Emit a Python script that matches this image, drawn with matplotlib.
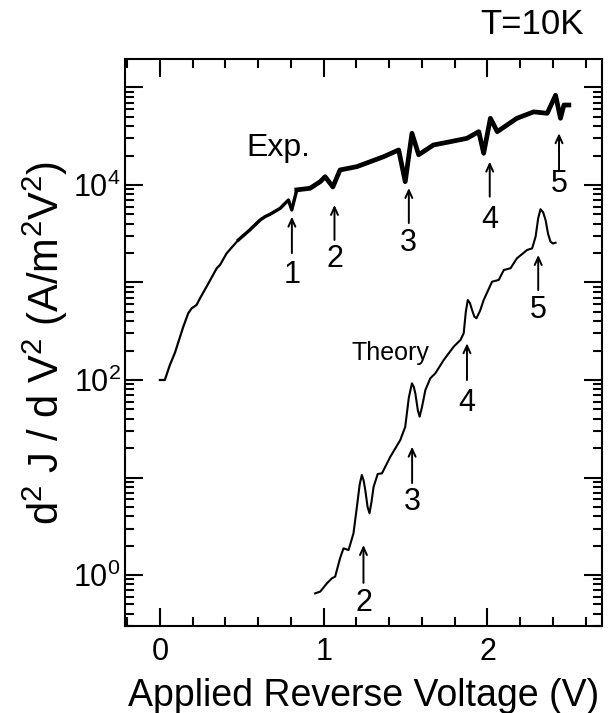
import matplotlib
matplotlib.use('Agg')
import matplotlib.pyplot as plt
from matplotlib.ticker import LogLocator, FixedLocator, MultipleLocator, FuncFormatter
import math

plt.rcParams['font.family'] = ['Liberation Sans', 'DejaVu Sans']
plt.rcParams['mathtext.fontset'] = 'custom'
plt.rcParams['mathtext.rm'] = 'Liberation Sans'
plt.rcParams['mathtext.it'] = 'Liberation Sans:italic'

# 실험 곡선 (Exp.)
exp_v = [0.0, 0.03, 0.061, 0.092, 0.143, 0.173, 0.194, 0.224, 0.245, 0.296, 0.347,
         0.367, 0.408, 0.479, 0.55, 0.612, 0.642, 0.673, 0.734,
         0.785, 0.805, 0.836, 0.917, 0.979, 1.009, 1.056, 1.10, 1.203, 1.366, 1.458,
         1.498, 1.539, 1.58, 1.67, 1.774, 1.876, 1.947, 1.977, 2.018, 2.06, 2.18,
         2.283, 2.365, 2.416, 2.446, 2.467, 2.497]
exp_log = [2.0, 2.0, 2.154, 2.28, 2.547, 2.684, 2.735, 2.77, 2.838, 2.99, 3.146,
           3.18, 3.3, 3.436, 3.54, 3.641, 3.675, 3.70, 3.76,
           3.846, 3.744, 3.95, 3.966, 4.034, 4.085, 3.98, 4.154, 4.188, 4.29, 4.359,
           4.034, 4.53, 4.31, 4.41, 4.444, 4.479, 4.547, 4.325, 4.684, 4.547, 4.684,
           4.75, 4.735, 4.92, 4.684, 4.82, 4.82]
exp_y = [10 ** v for v in exp_log]

# 이론 곡선 (Theory)
th_v = [0.948, 0.979, 1.02, 1.05, 1.07, 1.10, 1.121, 1.152, 1.182, 1.203, 1.22, 1.233,
        1.244, 1.254, 1.268, 1.28, 1.292, 1.305, 1.33, 1.356, 1.407, 1.468, 1.498, 1.52,
        1.539, 1.55, 1.56, 1.575, 1.586, 1.60, 1.621, 1.651, 1.682, 1.733, 1.794, 1.835,
        1.855, 1.868, 1.88, 1.893, 1.906, 1.92, 1.933, 1.955, 1.977,
        2.028, 2.069, 2.1, 2.141, 2.18, 2.242, 2.273, 2.294, 2.31, 2.324, 2.34, 2.355,
        2.37, 2.385, 2.40, 2.416]
th_log = [-0.188, -0.17, -0.085, -0.034, -0.017, 0.171, 0.274, 0.256, 0.427, 0.70, 0.93, 1.026,
          0.97, 0.872, 0.70, 0.633, 0.75, 0.905, 1.036, 1.043, 1.213, 1.385, 1.52, 1.82,
          1.966, 1.93, 1.86, 1.69, 1.624, 1.72, 1.897, 2.017, 2.069, 2.205, 2.342, 2.41,
          2.479, 2.70, 2.82, 2.79, 2.718, 2.65, 2.633, 2.71, 2.82,
          3.008, 3.026, 3.128, 3.146, 3.248, 3.333, 3.35, 3.47, 3.66, 3.751, 3.72, 3.64,
          3.50, 3.418, 3.40, 3.408]
th_y = [10 ** v for v in th_log]

# 화살표 표시 (번호, 전압, 화살표 끝, 꼬리, 숫자 위치)
exp_marks = ['1', '2', '3', '4', '5']
exp_mark_v = [0.806, 1.066, 1.52, 2.014, 2.437]
exp_tip = [4730, 6240, 9310, 17340, 33900]
exp_tail = [2000, 2730, 4070, 7590, 14260]
exp_num = [1195, 1740, 2540, 4370, 10230]

th_marks = ['2', '3', '4', '5']
th_mark_v = [1.243, 1.54, 1.875, 2.31]
th_tip = [2.03, 20.7, 238, 1914]
th_tail = [0.83, 8.78, 100, 837]
th_num = [0.516, 5.65, 57.7, 522]

fig = plt.figure(figsize=(6.15, 7.13), dpi=100)
ax = fig.add_axes([0.203, 0.122, 0.776, 0.795])

ax.plot(exp_v, exp_y, color='black', lw=1.6)
# 노이즈가 많은 구간은 굵게
n1 = 13
ax.plot(exp_v[n1:], exp_y[n1:], color='black', lw=2.4, solid_joinstyle='round')
n2 = 21
ax.plot(exp_v[n2:], exp_y[n2:], color='black', lw=3.4, solid_joinstyle='round')
ax.plot(th_v, th_y, color='black', lw=1.5)

ax.set_yscale('log')
ax.set_xlim(-0.214, 2.70)
ax.set_ylim(0.3, 1.95e5)

ax.xaxis.set_major_locator(FixedLocator([0, 1, 2]))
ax.xaxis.set_minor_locator(MultipleLocator(0.2))
ax.yaxis.set_major_locator(LogLocator(base=10, numticks=20))
ax.yaxis.set_minor_locator(LogLocator(base=10, subs=range(2, 10), numticks=20))


def ylab(v, pos):
    e = int(round(math.log10(v)))
    if e % 2 == 0 and e <= 4:
        return r'$\mathregular{10^{%d}}$' % e
    return ''


ax.yaxis.set_major_formatter(FuncFormatter(ylab))
ax.yaxis.set_minor_formatter(FuncFormatter(lambda v, p: ''))

ax.tick_params(which='both', direction='in', top=True, right=True, width=1.5)
ax.tick_params(which='major', length=13, labelsize=22)
ax.tick_params(axis='y', which='major', pad=3)
ax.tick_params(axis='x', which='major', pad=8)
ax.tick_params(which='minor', length=6.5)
for s in ax.spines.values():
    s.set_linewidth(1.5)

arrow = dict(arrowstyle='->,head_length=0.55,head_width=0.25', lw=1.4, color='black',
             shrinkA=0, shrinkB=0)
for m, v, a, b, t in zip(exp_marks, exp_mark_v, exp_tip, exp_tail, exp_num):
    ax.annotate('', xy=(v, a), xytext=(v, b), arrowprops=arrow)
    ax.text(v, t, m, fontsize=22, ha='center', va='center')

for m, v, a, b, t in zip(th_marks, th_mark_v, th_tip, th_tail, th_num):
    ax.annotate('', xy=(v, a), xytext=(v, b), arrowprops=arrow)
    ax.text(v, t, m, fontsize=22, ha='center', va='center')

ax.text(0.724, 23800, 'Exp.', fontsize=23, ha='center', va='center')
ax.text(1.407, 188, 'Theory', fontsize=18, ha='center', va='center')

fig.text(0.865, 0.965, 'T=10K', fontsize=25, ha='center', va='center')

ax.set_xlabel('Applied Reverse Voltage (V)', fontsize=27, labelpad=8)
ax.set_ylabel(r'd$^2$ J / d V$^2$ (A/m$^2$V$^2$)', fontsize=30, labelpad=2)

fig.savefig('out.png', dpi=100)
